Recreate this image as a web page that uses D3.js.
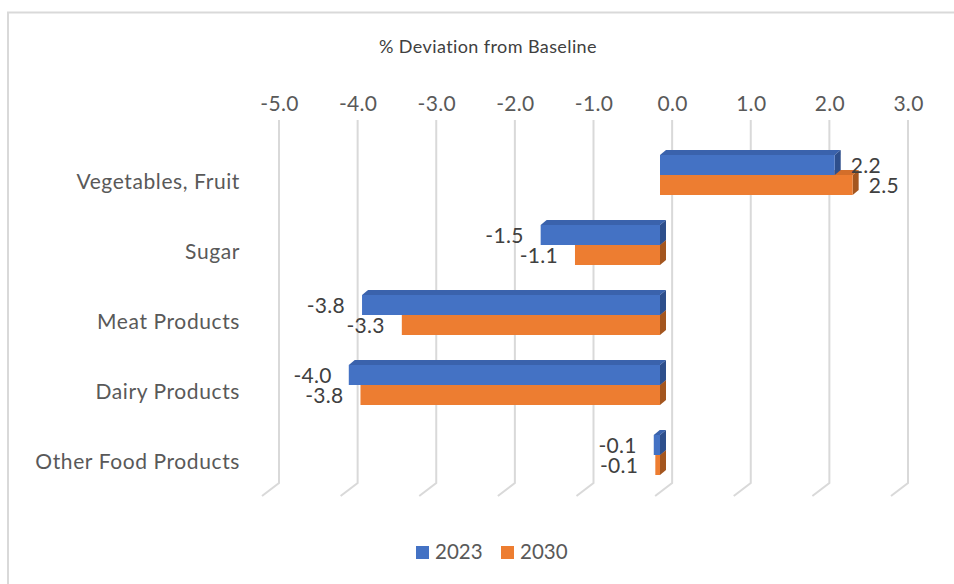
<!DOCTYPE html>
<html>
<head>
<meta charset="utf-8">
<script src="https://cdn.jsdelivr.net/npm/d3@7"></script>
<style>
  html, body { margin: 0; padding: 0; background: #fff; }
  svg { display: block; }
  text { font-family: Lato, "Open Sans", sans-serif; }
</style>
</head>
<body>
<svg id="chart" width="954" height="584"></svg>
<script>
const categories = ["Vegetables, Fruit", "Sugar", "Meat Products", "Dairy Products", "Other Food Products"];
const seriesNames = ["2023", "2030"];
const values2023 = [2.24, -1.53, -3.82, -3.99, -0.08];
const values2030 = [2.47, -1.09, -3.31, -3.84, -0.06];
const tickValues = [-5, -4, -3, -2, -1, 0, 1, 2, 3];
const titleText = "% Deviation from Baseline";

const colors = {
  "2023": { front: "#4472C4", top: "#3A62AC", side: "#2E4F8C" },
  "2030": { front: "#ED7D31", top: "#D36E2A", side: "#A4561F" }
};

const svg = d3.select("#chart");
const W = 954, H = 584;

// chart border (left and top only visible)
svg.append("path")
  .attr("d", `M8,${H} L8,12.5 L${W},12.5`)
  .attr("fill", "none").attr("stroke", "#d9d9d9").attr("stroke-width", 2);

// back wall scale (gridlines & tick labels)
const xBack = d3.scaleLinear().domain([-5, 3]).range([279, 908]);
// front plane scale (bars)
const xFront = d3.scaleLinear().domain([-5, 3]).range([660 - 5 * 78, 660 + 3 * 78]);
const y = d3.scaleBand().domain(categories).range([140, 490]).paddingInner(0).paddingOuter(0);
const ySeries = d3.scaleBand().domain(seriesNames).range([15, 55]);

const gridTop = 120, gridBottom = 483, dx = -17, dy = 13;
const depthX = 6, depthY = -5;

// gridlines
svg.append("g").selectAll("path").data(tickValues).join("path")
  .attr("d", d => `M${xBack(d)},${gridTop} L${xBack(d)},${gridBottom} L${xBack(d) + dx},${gridBottom + dy}`)
  .attr("fill", "none").attr("stroke", "#d9d9d9").attr("stroke-width", 2);

// top axis labels
const fmt = d3.formatLocale({ decimal: ".", thousands: ",", grouping: [3], currency: ["", ""], minus: "-" }).format(".1f");
const axis = svg.append("g").attr("transform", "translate(0,111)")
  .call(d3.axisTop(xBack).tickValues(tickValues).tickFormat(fmt).tickSize(0).tickPadding(0));
axis.select(".domain").remove();
axis.selectAll("text").attr("font-family", "Lato, sans-serif").attr("font-size", 21)
  .attr("letter-spacing", 0.3).attr("fill", "#595959");

// title
svg.append("text").attr("x", 488).attr("y", 53).attr("text-anchor", "middle")
  .attr("font-size", 18).attr("letter-spacing", 0.4).attr("fill", "#404040").text(titleText);

// category labels
svg.append("g").selectAll("text").data(categories).join("text")
  .attr("x", 240).attr("y", d => y(d) + y.bandwidth() / 2 + 14)
  .attr("text-anchor", "end").attr("font-size", 21).attr("letter-spacing", 0.6)
  .attr("fill", "#595959").text(d => d);

// bars
const rows = [];
seriesNames.forEach((s, si) => {
  const vals = si === 0 ? values2023 : values2030;
  categories.forEach((c, ci) => rows.push({ s, c, v: vals[ci] }));
});
// draw 2030 first, then 2023 so the upper bar covers
const order = ["2030", "2023"];
const barG = svg.append("g");
order.forEach(s => {
  const data = rows.filter(r => r.s === s);
  const g = barG.append("g");
  data.forEach(r => {
    const x0 = xFront(Math.min(0, r.v)), x1 = xFront(Math.max(0, r.v));
    const yt = y(r.c) + ySeries(r.s), yb = yt + ySeries.bandwidth();
    const col = colors[r.s];
    g.append("path").attr("fill", col.top)
      .attr("d", `M${x0},${yt} L${x0 + depthX},${yt + depthY} L${x1 + depthX},${yt + depthY} L${x1},${yt} Z`);
    g.append("path").attr("fill", col.side)
      .attr("d", `M${x1},${yt} L${x1 + depthX},${yt + depthY} L${x1 + depthX},${yb + depthY} L${x1},${yb} Z`);
    g.append("rect").attr("fill", col.front)
      .attr("x", x0).attr("y", yt).attr("width", x1 - x0).attr("height", yb - yt);
  });
});

// data labels
svg.append("g").selectAll("text").data(rows).join("text")
  .attr("x", r => r.v >= 0 ? xFront(r.v) + 16 : xFront(r.v) - 17)
  .attr("y", r => y(r.c) + ySeries(r.s) + ySeries.bandwidth() / 2 + 8)
  .attr("text-anchor", r => r.v >= 0 ? "start" : "end")
  .attr("font-size", 21).attr("letter-spacing", 0.3).attr("fill", "#404040")
  .text(r => fmt(r.v));

// legend
const legend = svg.append("g");
const legendX = [416, 501];
seriesNames.forEach((s, i) => {
  legend.append("rect").attr("x", legendX[i]).attr("y", 546).attr("width", 13).attr("height", 13)
    .attr("fill", colors[s].front);
  legend.append("text").attr("x", legendX[i] + 19).attr("y", 559)
    .attr("font-size", 20.5).attr("fill", "#595959").text(s);
});
</script>
</body>
</html>
